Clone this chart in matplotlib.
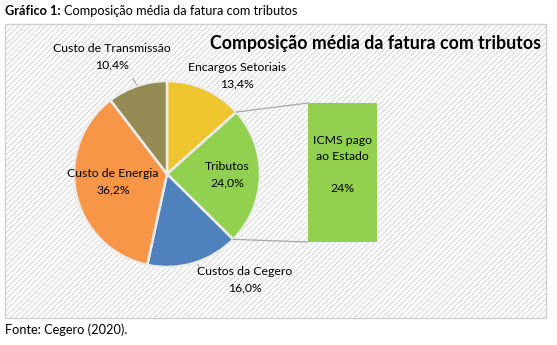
import numpy as np
import matplotlib.pyplot as plt
from matplotlib.patches import Rectangle

# Slice data (clockwise from 12 o'clock, as in the original)
labels = ["Encargos Setoriais", "Tributos", "Custos da Cegero",
          "Custo de Energia", "Custo de Transmissão"]
shares = [13.4, 24.0, 16.0, 36.2, 10.4]
colors = ["#EEC52E", "#92D050", "#4F81BD", "#F79646", "#948A54"]
explode = [0.0, 0.0, 0.0, 0.05, 0.0]

# Bar of the secondary breakdown
bar_lines = ["ICMS pago", "ao Estado"]
bar_value = 24

plt.rcParams['font.family'] = ['Lato', 'DejaVu Sans']
plt.rcParams['hatch.linewidth'] = 0.6
plt.rcParams['hatch.color'] = '#dedede'

W, H = 557, 345
fig = plt.figure(figsize=(W / 100, H / 100), dpi=100)
ax = fig.add_axes([0, 0, 1, 1])

def Y(y):
    # pixel row (from top) to axes y
    return H - y

# Chart area with hatched background
ax.add_patch(Rectangle((5, Y(318)), 541, 294, facecolor='white', edgecolor='#d0d0d0',
                       hatch='//////', lw=1, zorder=0))

# Pie
cx, cy, r = 167, Y(174), 93
wedges, _ = ax.pie(shares, colors=colors, explode=explode, startangle=90,
                   counterclock=False, center=(cx, cy), radius=r,
                   wedgeprops=dict(edgecolor='#ececec', linewidth=1.8), frame=True)
ax.set_xlim(0, W)
ax.set_ylim(0, H)
ax.set_aspect('equal')
ax.set_axis_off()

# Bar-of-pie box
bx, by_top, bw, bh = 308, 103, 69, 139
ax.add_patch(Rectangle((bx, Y(by_top + bh)), bw, bh, facecolor='#92D050',
                       edgecolor='none', zorder=3))
for k, line in enumerate(bar_lines):
    ax.text(bx + bw / 2, Y(by_top + 38 + 16 * k), line, ha='center', va='center',
            fontsize=8.8, zorder=4)
ax.text(bx + bw / 2, Y(by_top + 86), f"{bar_value}%", ha='center', va='center',
        fontsize=8.8, zorder=4)

# Connector lines from the Tributos slice to the bar
w = wedges[1]
a1, a2 = np.deg2rad(w.theta1), np.deg2rad(w.theta2)
for a, yb in [(a2, by_top), (a1, by_top + bh)]:
    px, py = cx + r * np.cos(a), cy + r * np.sin(a)
    ax.plot([px, bx], [py, Y(yb)], color='#a6a6a6', lw=0.9, zorder=2)

# Slice labels
fs = 8.8
def lab(i, x, y):
    ax.text(x, Y(y), f"{labels[i]}\n{shares[i]:.1f}%".replace('.', ','),
            ha='center', va='center', fontsize=fs, linespacing=1.6, zorder=5)

lab(0, 237, 76)
lab(1, 227, 175)
lab(2, 245, 280)
lab(3, 113, 182)
lab(4, 112, 57)

# leader lines
ax.plot([133, 137], [Y(79), Y(85)], color='#a6a6a6', lw=0.8, zorder=2)
ax.plot([198, 198], [Y(264), Y(274)], color='#a6a6a6', lw=0.8, zorder=2)

# Chart title
ax.text(541, Y(43), "Composição média da fatura com tributos", ha='right',
        va='center', fontsize=12.8, fontweight='bold', zorder=5)

# Caption above and source below
t1 = ax.text(5, Y(11), "Gráfico 1:", ha='left', va='center', fontsize=9.2,
             fontweight='bold')
fig.canvas.draw()
bb = t1.get_window_extent()
ax.text(bb.x1 + 3, Y(11), "Composição média da fatura com tributos", ha='left',
        va='center', fontsize=9.2)
ax.text(5, Y(330), "Fonte: Cegero (2020).", ha='left', va='center', fontsize=9.2)

fig.savefig("out.png", dpi=100)
